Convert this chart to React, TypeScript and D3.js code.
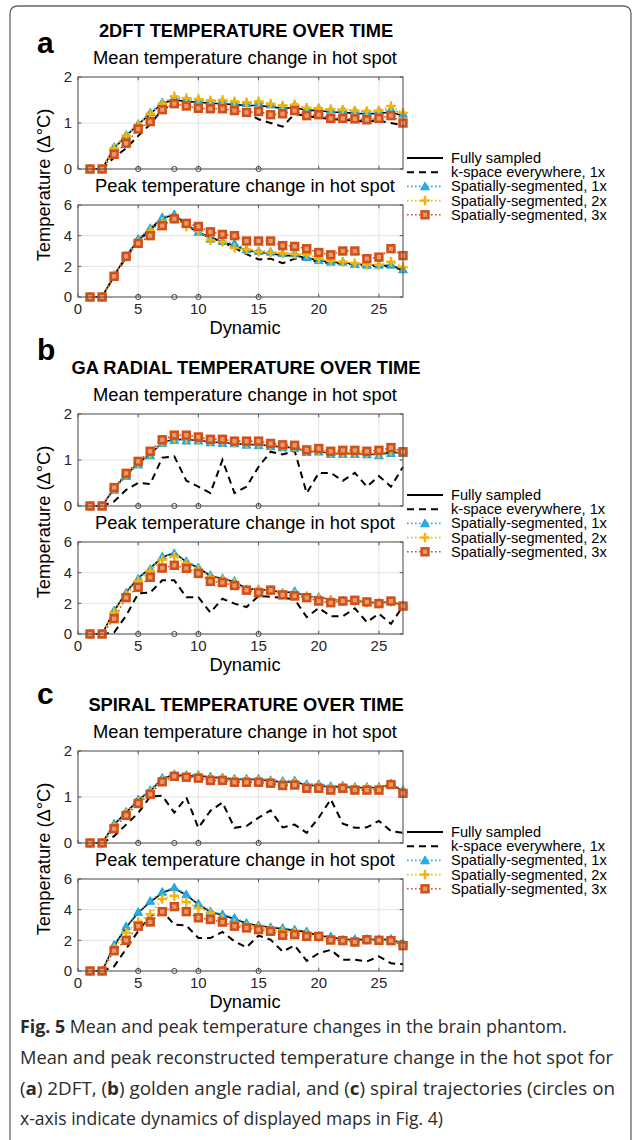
import React from "react";
import * as d3 from "d3";

// ---------------- DATA ----------------
const dynamics = [1, 2, 3, 4, 5, 6, 7, 8, 9, 10, 11, 12, 13, 14, 15, 16, 17, 18, 19, 20, 21, 22, 23, 24, 25, 26, 27];
const xTicks = [0, 5, 10, 15, 20, 25];
const meanTicks = [0, 1, 2];
const peakTicks = [0, 2, 4, 6];
const displayedDynamics = [5, 8, 10, 15];
const seriesNames = [
  "Fully sampled",
  "k-space everywhere, 1x",
  "Spatially-segmented, 1x",
  "Spatially-segmented, 2x",
  "Spatially-segmented, 3x",
];

// (a) 2DFT - mean
const dftMeanFull = [0, 0, 0.45, 0.72, 0.97, 1.2, 1.43, 1.5, 1.47, 1.45, 1.43, 1.42, 1.4, 1.38, 1.38, 1.35, 1.32, 1.33, 1.28, 1.27, 1.24, 1.23, 1.21, 1.2, 1.21, 1.24, 1.15];
const dftMeanKspace = [0, 0, 0.25, 0.45, 0.72, 0.97, 1.3, 1.4, 1.36, 1.32, 1.3, 1.28, 1.26, 1.22, 1.08, 1.0, 0.92, 1.2, 1.15, 1.12, 1.08, 1.07, 1.05, 1.03, 1.05, 1.0, 0.95];
const dftMeanSeg1 = [0, 0, 0.48, 0.74, 0.98, 1.23, 1.45, 1.55, 1.52, 1.5, 1.47, 1.48, 1.45, 1.43, 1.45, 1.4, 1.37, 1.4, 1.32, 1.32, 1.29, 1.29, 1.27, 1.25, 1.27, 1.3, 1.2];
const dftMeanSeg2 = [0, 0, 0.45, 0.72, 0.95, 1.2, 1.42, 1.58, 1.54, 1.52, 1.49, 1.5, 1.47, 1.45, 1.47, 1.42, 1.38, 1.4, 1.33, 1.32, 1.3, 1.29, 1.27, 1.26, 1.27, 1.37, 1.22];
const dftMeanSeg3 = [0, 0, 0.32, 0.56, 0.87, 1.03, 1.29, 1.42, 1.37, 1.32, 1.31, 1.31, 1.27, 1.23, 1.25, 1.18, 1.2, 1.27, 1.16, 1.18, 1.1, 1.1, 1.09, 1.07, 1.1, 1.16, 1.0];
// (a) 2DFT - peak
const dftPeakFull = [0, 0, 1.4, 2.68, 3.7, 4.45, 5.15, 5.35, 4.75, 4.2, 3.85, 3.6, 3.35, 3.05, 2.9, 2.85, 2.7, 2.7, 2.55, 2.4, 2.25, 2.25, 2.15, 2.1, 2.05, 2.05, 1.8];
const dftPeakKspace = [0, 0, 1.35, 2.6, 3.6, 4.4, 5.1, 5.3, 4.7, 4.2, 3.9, 3.6, 3.2, 2.8, 2.45, 2.5, 2.2, 2.5, 2.45, 2.3, 2.2, 2.2, 2.1, 2.05, 2.0, 2.0, 1.75];
const dftPeakSeg1 = [0, 0, 1.42, 2.7, 3.8, 4.5, 5.2, 5.4, 4.8, 4.25, 3.8, 3.65, 3.5, 3.1, 3.0, 2.95, 2.85, 2.85, 2.6, 2.4, 2.3, 2.3, 2.15, 2.1, 2.1, 2.1, 1.8];
const dftPeakSeg2 = [0, 0, 1.4, 2.65, 3.6, 4.3, 4.9, 5.1, 4.6, 4.3, 3.7, 3.6, 3.2, 3.1, 2.95, 2.9, 2.85, 2.8, 2.8, 2.5, 2.35, 2.3, 2.2, 2.1, 2.1, 2.3, 1.95];
const dftPeakSeg3 = [0, 0, 1.35, 2.65, 3.5, 4.0, 4.65, 5.1, 4.8, 4.6, 4.25, 4.08, 4.0, 3.65, 3.65, 3.65, 3.35, 3.3, 3.15, 2.9, 2.75, 3.0, 3.0, 2.5, 2.6, 3.15, 2.7];

// (b) GA radial - mean
const gaMeanFull = [0, 0, 0.38, 0.68, 0.93, 1.13, 1.38, 1.45, 1.44, 1.43, 1.39, 1.38, 1.36, 1.34, 1.33, 1.31, 1.28, 1.27, 1.18, 1.19, 1.14, 1.14, 1.14, 1.13, 1.12, 1.17, 1.15];
const gaMeanKspace = [0, 0, 0.1, 0.35, 0.5, 0.48, 1.05, 1.08, 0.55, 0.42, 0.28, 1.0, 0.28, 0.42, 0.85, 1.18, 1.12, 1.2, 0.28, 0.72, 0.72, 0.55, 0.72, 0.42, 0.65, 0.42, 0.85];
const gaMeanSeg1 = [0, 0, 0.35, 0.65, 0.9, 1.1, 1.37, 1.43, 1.42, 1.42, 1.38, 1.37, 1.36, 1.33, 1.32, 1.3, 1.27, 1.26, 1.17, 1.18, 1.13, 1.13, 1.13, 1.12, 1.1, 1.15, 1.15];
const gaMeanSeg2 = [0, 0, 0.38, 0.68, 0.93, 1.14, 1.4, 1.47, 1.46, 1.45, 1.41, 1.4, 1.38, 1.36, 1.35, 1.33, 1.3, 1.29, 1.19, 1.21, 1.16, 1.16, 1.16, 1.15, 1.14, 1.2, 1.16];
const gaMeanSeg3 = [0, 0, 0.4, 0.71, 0.97, 1.19, 1.44, 1.54, 1.54, 1.5, 1.45, 1.45, 1.41, 1.41, 1.41, 1.36, 1.33, 1.32, 1.22, 1.25, 1.19, 1.21, 1.21, 1.19, 1.21, 1.27, 1.18];
// (b) GA radial - peak
const gaPeakFull = [0, 0, 1.5, 2.72, 3.65, 4.3, 5.0, 5.3, 4.7, 4.3, 3.8, 3.6, 3.4, 2.95, 2.9, 2.85, 2.7, 2.75, 2.45, 2.4, 2.25, 2.15, 2.15, 2.08, 2.02, 2.1, 1.88];
const gaPeakKspace = [0, 0, 0.1, 1.2, 2.64, 2.7, 3.5, 3.5, 2.4, 2.4, 1.4, 2.3, 1.98, 1.76, 2.48, 2.42, 2.37, 2.26, 1.1, 1.7, 1.16, 1.16, 1.67, 0.77, 1.33, 0.66, 1.82];
const gaPeakSeg1 = [0, 0, 1.54, 2.7, 3.6, 4.24, 5.05, 5.27, 4.75, 4.35, 3.85, 3.65, 3.47, 2.92, 2.92, 2.86, 2.7, 2.8, 2.48, 2.42, 2.26, 2.15, 2.2, 2.09, 2.04, 2.15, 1.89];
const gaPeakSeg2 = [0, 0, 1.4, 2.55, 3.45, 4.1, 4.85, 5.05, 4.6, 4.2, 3.7, 3.55, 3.35, 2.9, 2.9, 2.85, 2.65, 2.6, 2.45, 2.35, 2.2, 2.15, 2.15, 2.05, 2.0, 2.1, 1.85];
const gaPeakSeg3 = [0, 0, 1.0, 2.37, 3.05, 3.7, 4.3, 4.48, 4.28, 3.95, 3.43, 3.36, 3.16, 2.86, 2.7, 2.86, 2.55, 2.48, 2.37, 2.15, 2.04, 2.15, 2.2, 2.09, 1.98, 2.15, 1.82];

// (c) Spiral - mean
const spMeanFull = [0, 0, 0.4, 0.66, 0.93, 1.13, 1.4, 1.48, 1.46, 1.46, 1.43, 1.41, 1.38, 1.38, 1.38, 1.35, 1.32, 1.33, 1.25, 1.25, 1.21, 1.23, 1.2, 1.2, 1.2, 1.28, 1.13];
const spMeanKspace = [0, 0, 0.15, 0.4, 0.65, 1.01, 1.03, 0.66, 0.99, 0.33, 0.7, 0.88, 0.33, 0.37, 0.55, 0.71, 0.34, 0.4, 0.22, 0.55, 0.95, 0.42, 0.33, 0.34, 0.48, 0.26, 0.22];
const spMeanSeg1 = [0, 0, 0.42, 0.68, 0.95, 1.15, 1.42, 1.5, 1.48, 1.48, 1.45, 1.43, 1.4, 1.4, 1.4, 1.37, 1.35, 1.36, 1.28, 1.28, 1.24, 1.25, 1.22, 1.22, 1.22, 1.3, 1.15];
const spMeanSeg2 = [0, 0, 0.36, 0.64, 0.9, 1.1, 1.37, 1.47, 1.45, 1.44, 1.4, 1.39, 1.36, 1.36, 1.36, 1.33, 1.3, 1.31, 1.23, 1.23, 1.19, 1.21, 1.18, 1.18, 1.18, 1.28, 1.11];
const spMeanSeg3 = [0, 0, 0.31, 0.6, 0.86, 1.06, 1.33, 1.45, 1.43, 1.41, 1.36, 1.36, 1.32, 1.32, 1.32, 1.3, 1.25, 1.26, 1.19, 1.19, 1.15, 1.19, 1.15, 1.15, 1.15, 1.27, 1.08];
// (c) Spiral - peak
const spPeakFull = [0, 0, 1.65, 2.85, 3.8, 4.5, 5.1, 5.4, 4.95, 4.35, 3.85, 3.65, 3.4, 3.1, 2.95, 2.85, 2.75, 2.65, 2.55, 2.3, 2.22, 2.05, 2.05, 2.05, 2.05, 2.05, 1.8];
const spPeakKspace = [0, 0, 0.3, 1.45, 2.6, 3.58, 3.9, 3.03, 2.97, 2.15, 2.15, 2.55, 1.93, 1.54, 2.31, 2.04, 1.27, 1.67, 0.66, 1.16, 1.38, 0.73, 0.73, 0.62, 0.95, 0.5, 0.44];
const spPeakSeg1 = [0, 0, 1.71, 2.92, 3.85, 4.57, 5.16, 5.45, 5.0, 4.4, 3.9, 3.7, 3.47, 3.14, 2.99, 2.86, 2.81, 2.7, 2.59, 2.31, 2.26, 2.04, 2.09, 2.09, 2.09, 2.11, 1.82];
const spPeakSeg2 = [0, 0, 1.5, 2.5, 3.2, 3.7, 4.7, 4.9, 4.5, 4.1, 3.8, 3.4, 3.1, 2.9, 2.85, 2.7, 2.6, 2.5, 2.4, 2.2, 2.05, 2.0, 1.9, 2.05, 2.0, 2.0, 1.75];
const spPeakSeg3 = [0, 0, 1.32, 2.0, 2.92, 3.2, 3.87, 4.2, 3.87, 3.47, 3.36, 3.19, 2.92, 2.81, 2.7, 2.59, 2.33, 2.37, 2.26, 2.26, 2.02, 1.98, 1.89, 2.04, 2.0, 1.98, 1.65];

// ---------------- STYLE ----------------
const BLUE = "#22AEE6";
const BLUE_EDGE = "#1497D3";
const YELLOW = "#F6B400";
const RED = "#D0501A";
const RED_FACE = "#E79A70";
const AXIS = "#555555";
const GRID = "#E3E3E3";
const FONT = "'Liberation Sans', Arial, Helvetica, sans-serif";
const CAP_FONT = "'Open Sans', 'Noto Sans', sans-serif";

const X0 = 78;
const X1 = 403;
const PLOT_H = 92;
const xScale = d3.scaleLinear().domain([0, 27]).range([X0, X1]);

type Kind = "none" | "tri" | "plus" | "sq";
const seriesStyle: { color: string; dash: string; width: number; marker: Kind }[] = [
  { color: "#000", dash: "none", width: 1.6, marker: "none" },
  { color: "#000", dash: "7 5", width: 2, marker: "none" },
  { color: BLUE, dash: "1.6 2.4", width: 1.6, marker: "tri" },
  { color: YELLOW, dash: "1.6 2.4", width: 1.6, marker: "plus" },
  { color: RED, dash: "1.6 2.4", width: 1.6, marker: "sq" },
];

function Marker({ kind, x, y }: { kind: Kind; x: number; y: number }) {
  if (kind === "tri") {
    return (
      <path
        d={`M${x},${y - 4.3} L${x + 4.4},${y + 3.4} L${x - 4.4},${y + 3.4} Z`}
        fill={BLUE}
        stroke={BLUE_EDGE}
        strokeWidth={0.8}
      />
    );
  }
  if (kind === "plus") {
    return (
      <g stroke={YELLOW} strokeWidth={2.4}>
        <line x1={x - 4.8} x2={x + 4.8} y1={y} y2={y} />
        <line x1={x} x2={x} y1={y - 4.8} y2={y + 4.8} />
      </g>
    );
  }
  if (kind === "sq") {
    return <rect x={x - 3.4} y={y - 3.4} width={6.8} height={6.8} fill={RED_FACE} stroke={RED} strokeWidth={2.6} />;
  }
  return null;
}

function Plot({ top, yMax, yTicks, series }: { top: number; yMax: number; yTicks: number[]; series: number[][] }) {
  const bottom = top + PLOT_H;
  const y = d3.scaleLinear().domain([0, yMax]).range([bottom, top]);
  const line = d3
    .line<number>()
    .x((_, i) => xScale(dynamics[i]))
    .y((d) => y(d));
  const tl = 3.3;
  return (
    <g>
      <rect x={X0} y={top} width={X1 - X0} height={PLOT_H} fill="#fff" />
      {xTicks.filter((t) => t > 0).map((t) => (
        <line key={"gx" + t} x1={xScale(t)} x2={xScale(t)} y1={top} y2={bottom} stroke={GRID} strokeWidth={1} />
      ))}
      {yTicks.filter((t) => t > 0 && t < yMax).map((t) => (
        <line key={"gy" + t} x1={X0} x2={X1} y1={y(t)} y2={y(t)} stroke={GRID} strokeWidth={1} />
      ))}
      {xTicks.map((t) => (
        <g key={"tx" + t} stroke={AXIS} strokeWidth={1}>
          <line x1={xScale(t)} x2={xScale(t)} y1={bottom} y2={bottom - tl} />
          <line x1={xScale(t)} x2={xScale(t)} y1={top} y2={top + tl} />
        </g>
      ))}
      {yTicks.map((t) => (
        <g key={"ty" + t} stroke={AXIS} strokeWidth={1}>
          <line x1={X0} x2={X0 + tl} y1={y(t)} y2={y(t)} />
          <line x1={X1} x2={X1 - tl} y1={y(t)} y2={y(t)} />
        </g>
      ))}
      {yTicks.map((t) => (
        <text key={"yl" + t} x={X0 - 6} y={y(t) + 5.3} textAnchor="end" fontSize={15} fontFamily={FONT} fill="#262626">
          {t}
        </text>
      ))}
      {series.map((vals, si) => {
        const st = seriesStyle[si];
        return (
          <g key={"s" + si}>
            <path
              d={line(vals) || ""}
              fill="none"
              stroke={st.color}
              strokeWidth={st.width}
              strokeDasharray={st.dash}
              strokeLinecap="butt"
            />
            {vals.map((v, i) => (
              <Marker key={i} kind={st.marker} x={xScale(dynamics[i])} y={y(v)} />
            ))}
          </g>
        );
      })}
      {displayedDynamics.map((d) => (
        <circle key={"c" + d} cx={xScale(d)} cy={bottom} r={2.6} fill="none" stroke="#444" strokeWidth={1} />
      ))}
      <rect x={X0} y={top} width={X1 - X0} height={PLOT_H} fill="none" stroke={AXIS} strokeWidth={1.1} />
    </g>
  );
}

function Legend({ top }: { top: number }) {
  const lx0 = 407;
  const lx1 = 443;
  const step = 14.2;
  return (
    <g>
      {seriesNames.map((name, i) => {
        const st = seriesStyle[i];
        const yy = top + i * step;
        return (
          <g key={name}>
            <line
              x1={lx0}
              x2={lx1}
              y1={yy}
              y2={yy}
              stroke={st.color}
              strokeWidth={st.marker === "none" ? 2 : st.width}
              strokeDasharray={st.dash}
            />
            <Marker kind={st.marker} x={(lx0 + lx1) / 2} y={yy} />
            <text x={451} y={yy + 5} fontSize={14.6} fontFamily={FONT} fill="#000">
              {name}
            </text>
          </g>
        );
      })}
    </g>
  );
}

const panels = [
  { letter: "a", letterY: 53, title: "2DFT TEMPERATURE OVER TIME", mean: [dftMeanFull, dftMeanKspace, dftMeanSeg1, dftMeanSeg2, dftMeanSeg3], peak: [dftPeakFull, dftPeakKspace, dftPeakSeg1, dftPeakSeg2, dftPeakSeg3] },
  { letter: "b", letterY: 360, title: "GA RADIAL TEMPERATURE OVER TIME", mean: [gaMeanFull, gaMeanKspace, gaMeanSeg1, gaMeanSeg2, gaMeanSeg3], peak: [gaPeakFull, gaPeakKspace, gaPeakSeg1, gaPeakSeg2, gaPeakSeg3] },
  { letter: "c", letterY: 704, title: "SPIRAL TEMPERATURE OVER TIME", mean: [spMeanFull, spMeanKspace, spMeanSeg1, spMeanSeg2, spMeanSeg3], peak: [spPeakFull, spPeakKspace, spPeakSeg1, spPeakSeg2, spPeakSeg3] },
];

function Panel({ index }: { index: number }) {
  const p = panels[index];
  const off = index * 337;
  const meanTop = 77 + off;
  const peakTop = 205 + off;
  const cx = 245;
  return (
    <g>
      <text x={37} y={p.letterY} fontSize={30} fontWeight="bold" fontFamily={FONT} fill="#000">
        {p.letter}
      </text>
      <text x={246} y={37 + off} fontSize={18.3} fontWeight="bold" fontFamily={FONT} textAnchor="middle" fill="#000">
        {p.title}
      </text>
      <text x={cx} y={meanTop - 13} fontSize={18.3} fontFamily={FONT} textAnchor="middle" fill="#000">
        Mean temperature change in hot spot
      </text>
      <text x={cx} y={peakTop - 13} fontSize={18.3} fontFamily={FONT} textAnchor="middle" fill="#000">
        Peak temperature change in hot spot
      </text>
      <text
        transform={`translate(50, ${185 + off}) rotate(-90)`}
        fontSize={18.3}
        fontFamily={FONT}
        textAnchor="middle"
        fill="#000"
      >
        Temperature (Δ°C)
      </text>
      <Plot top={meanTop} yMax={2} yTicks={meanTicks} series={p.mean} />
      <Plot top={peakTop} yMax={6} yTicks={peakTicks} series={p.peak} />
      {xTicks.map((t) => (
        <text key={"xl" + t} x={xScale(t)} y={peakTop + PLOT_H + 17} fontSize={15} fontFamily={FONT} textAnchor="middle" fill="#262626">
          {t}
        </text>
      ))}
      <text x={cx} y={334 + off} fontSize={18.3} fontFamily={FONT} textAnchor="middle" fill="#000">
        Dynamic
      </text>
      <Legend top={meanTop + PLOT_H - 11} />
    </g>
  );
}

export default function App() {
  return (
    <svg
      width={632}
      height={1140}
      viewBox="0 0 632 1140"
      style={{ position: "absolute", left: 0, top: 0, background: "#fff" }}
    >
      <rect x={0} y={0} width={632} height={1140} fill="#fff" />
      <path d="M10,1140 V14 Q10,6 18,6 H623 Q631,6 631,14 V1140" fill="none" stroke="#666" strokeWidth={1.3} />
      <Panel index={0} />
      <Panel index={1} />
      <Panel index={2} />
      <g fontFamily={CAP_FONT} fontSize={18} fill="#2b2b2b">
        <text x={20} y={1033} textLength={547} lengthAdjust="spacingAndGlyphs">
          <tspan fontWeight="bold">Fig. 5</tspan> Mean and peak temperature changes in the brain phantom.
        </text>
        <text x={20} y={1064} textLength={593} lengthAdjust="spacingAndGlyphs">
          Mean and peak reconstructed temperature change in the hot spot for
        </text>
        <text x={20} y={1095} textLength={595} lengthAdjust="spacingAndGlyphs">
          (<tspan fontWeight="bold">a</tspan>) 2DFT, (<tspan fontWeight="bold">b</tspan>) golden angle radial, and (
          <tspan fontWeight="bold">c</tspan>) spiral trajectories (circles on
        </text>
        <text x={20} y={1125} textLength={423} lengthAdjust="spacingAndGlyphs">
          x-axis indicate dynamics of displayed maps in Fig. 4)
        </text>
      </g>
    </svg>
  );
}
